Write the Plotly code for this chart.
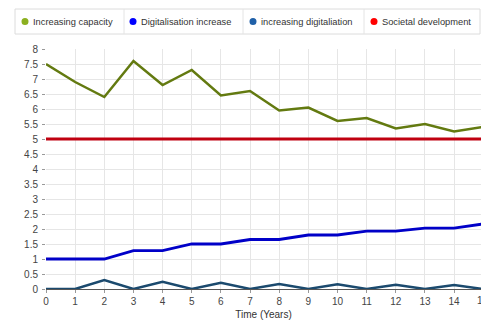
import plotly.graph_objects as go

# Years on the horizontal axis
years = list(range(16))

# Series values per year
increasing_capacity = [7.5, 6.9, 6.4, 7.6, 6.8, 7.3, 6.45, 6.6, 5.95, 6.05, 5.6, 5.7, 5.35, 5.5, 5.25, 5.4]
digitalisation_increase = [1.0, 1.0, 1.0, 1.28, 1.28, 1.5, 1.5, 1.65, 1.65, 1.8, 1.8, 1.93, 1.93, 2.03, 2.03, 2.17]
increasing_digitaliation = [0, 0, 0.3, 0, 0.24, 0, 0.21, 0, 0.17, 0, 0.16, 0, 0.14, 0, 0.13, 0]
societal_development = [5] * 16

series_names = ["Increasing capacity", "Digitalisation increase",
                "increasing digitaliation", "Societal development"]
line_colors = ["#637a10", "#0000c8", "#1b4a6e", "#c00010"]
dot_colors = ["#8cb020", "#0000ff", "#1f60a8", "#ff0000"]
line_widths = [2.5, 2.8, 2.5, 3]
series_values = [increasing_capacity, digitalisation_increase,
                 increasing_digitaliation, societal_development]

W, H = 481, 325
ML, MR, MT, MB = 46, 0, 49, 36
plot_w = W - ML - MR
plot_h = H - MT - MB
x_unit = 29.15  # pixels per year
x_max = plot_w / x_unit


def px_x(p):
    return (p - ML) / plot_w


def px_y(p):
    return (H - MB - p) / plot_h


fig = go.Figure()
# draw order: societal line beneath the others
for i in [3, 0, 1, 2]:
    fig.add_trace(go.Scatter(
        x=years, y=series_values[i], mode="lines", name=series_names[i],
        line=dict(color=line_colors[i], width=line_widths[i]),
        showlegend=False,
    ))

shapes = []
annotations = []

# legend box with dividers
box_l, box_r, box_t, box_b = 15, 480, 9, 34
shapes.append(dict(type="rect", xref="paper", yref="paper",
                   x0=px_x(box_l), x1=px_x(box_r), y0=px_y(box_b), y1=px_y(box_t),
                   line=dict(color="#dcdcdc", width=1), fillcolor="white", layer="above"))
for d in [124, 243, 364]:
    shapes.append(dict(type="line", xref="paper", yref="paper",
                       x0=px_x(d), x1=px_x(d), y0=px_y(box_b), y1=px_y(box_t),
                       line=dict(color="#e4e4e4", width=1), layer="above"))
dot_x = [25, 133, 253, 374]
cy = 21.5
r = 3.5
for name, col, dx in zip(series_names, dot_colors, dot_x):
    shapes.append(dict(type="circle", xref="paper", yref="paper",
                       x0=px_x(dx - r), x1=px_x(dx + r), y0=px_y(cy + r), y1=px_y(cy - r),
                       fillcolor=col, line=dict(color=col, width=0), layer="above"))
    annotations.append(dict(xref="paper", yref="paper", x=px_x(dx + 6), y=px_y(cy),
                            xanchor="left", yanchor="middle", text=name, showarrow=False,
                            font=dict(size=9.3, color="#333333", family="Liberation Sans, Arial")))

# last year label sits just past the visible edge
annotations.append(dict(xref="paper", yref="paper", x=px_x(ML + 15 * x_unit), y=0,
                        yanchor="top", xanchor="center", yshift=-4, text="15", showarrow=False,
                        font=dict(size=10, color="#444444", family="Liberation Sans, Arial")))

fig.update_layout(
    width=W, height=H,
    margin=dict(l=ML, r=MR, t=MT, b=MB, pad=0),
    paper_bgcolor="white", plot_bgcolor="white",
    font=dict(family="Liberation Sans, Arial", size=10, color="#444444"),
    shapes=shapes, annotations=annotations,
    xaxis=dict(range=[0, x_max], tickvals=years, ticktext=[str(y) for y in years],
               showgrid=True, gridcolor="#e6e6e6", gridwidth=1,
               zeroline=False, showline=True, linecolor="#555555", linewidth=1,
               ticks="outside", ticklen=3, tickcolor="#999999",
               title=dict(text="Time (Years)", font=dict(size=10, color="#333333"), standoff=4),
               fixedrange=True),
    yaxis=dict(range=[0, 8], dtick=0.5, tick0=0,
               showgrid=True, gridcolor="#e6e6e6", gridwidth=1,
               zeroline=False, showline=False,
               ticks="outside", ticklen=3, tickcolor="#999999",
               ticklabelstandoff=2,
               fixedrange=True),
)

fig.write_html("out.html")
